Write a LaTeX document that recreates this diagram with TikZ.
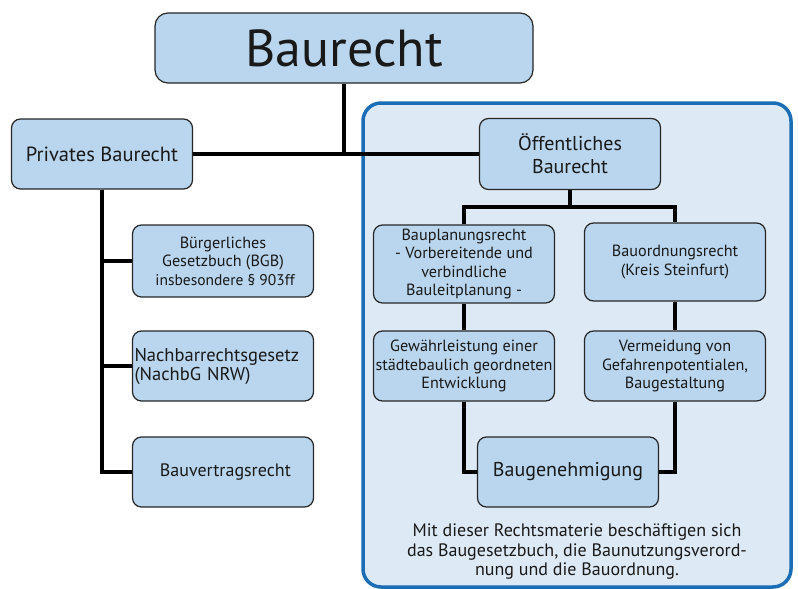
\documentclass[tikz,border=0pt]{standalone}
\usepackage{fontspec}
\setmainfont{PT Sans}
\usepackage{xcolor}
\usetikzlibrary{positioning}
\definecolor{boxblue}{HTML}{B9D6EE}
\definecolor{panelblue}{HTML}{DDEAF6}
\definecolor{panelline}{HTML}{1B6DB5}
\tikzset{font={\fontsize{16.2pt}{18.5pt}\selectfont}}

\begin{document}
\begin{tikzpicture}[x=1pt,y=-1pt,
                    box/.style={draw=black!85,fill=boxblue,rounded corners=9pt,line width=1.2pt,
                      minimum width=181pt,minimum height=70pt,align=center,inner sep=2pt,text=black!90},
                    link/.style={line width=4pt}]
  \useasboundingbox (0,0) rectangle (798,589);
  \draw[panelline,fill=panelblue,line width=3.5pt,rounded corners=18pt] (363,103) rectangle (791,587);

  \node[box,font=\fontsize{52pt}{56pt}\selectfont,minimum width=378pt,rounded corners=13pt] (baurecht) at (344,48) {Baurecht};
  \node[box,font=\fontsize{20.5pt}{24pt}\selectfont] (privat) at (102,154) {Privates Baurecht};
  \node[box,font=\fontsize{20pt}{23pt}\selectfont,minimum height=71pt] (oeff) at (570,154) {Öffentliches\\Baurecht};
  \node[box,minimum height=78pt] (planung) at (464,264) {Bauplanungsrecht\\- Vorbereitende und\\verbindliche\\Bauleitplanung -};
  \node[box,minimum height=78pt] (ordnung) at (675,262) {Bauordnungsrecht\\(Kreis Steinfurt)};
  \node[box] (gewaehr) at (464,366) {Gewährleistung einer\\städtebaulich geordneten\\Entwicklung};
  \node[box] (vermeid) at (675,366) {Vermeidung von\\Gefahrenpotentialen,\\Baugestaltung};
  \node[box,font=\fontsize{20pt}{24pt}\selectfont] (genehm) at (568,472) {Baugenehmigung};
  \node[box,minimum height=72pt] (bgb) at (223,261) {Bürgerliches\\Gesetzbuch (BGB)\\{\fontsize{15.5pt}{18.5pt}\selectfont\ insbesondere \S\ 903ff}};
  \node[box,text width=177pt,align=left,font=\fontsize{18.5pt}{19pt}\selectfont] (nachbar) at (223,366) {Nachbarrechtsgesetz\\(NachbG NRW)};
  \node[box,font=\fontsize{18pt}{20pt}\selectfont] (vertrag) at (223,472) {\ Bauvertragsrecht};
  \node[align=center,text=black!90,font=\fontsize{18pt}{19.5pt}\selectfont] (hinweis) at (577,552) {Mit dieser Rechtsmaterie beschäftigen sich\\das Baugesetzbuch, die Baunutzungsverord-\\nung und die Bauordnung.};

  \coordinate (split) at (570,207);
  \draw[link] (baurecht.south) -- (baurecht.south |- privat.east);
  \draw[link] (privat) -- (oeff);
  \draw[link] (privat.south) |- (bgb.west);
  \draw[link] (privat.south) |- (nachbar.west);
  \draw[link] (privat.south) |- (vertrag.west);
  \draw[link] (oeff) -- (split);
  \draw[link] (planung.north) |- (split) -| (ordnung.north);
  \draw[link] (planung) -- (gewaehr);
  \draw[link] (ordnung) -- (vermeid);
  \draw[link] (gewaehr.south) |- (genehm.west);
  \draw[link] (vermeid.south) |- (genehm.east);
\end{tikzpicture}
\end{document}
